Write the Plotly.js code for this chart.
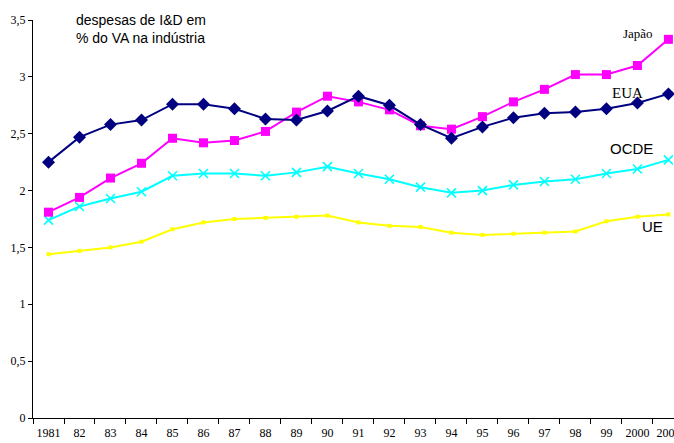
<!DOCTYPE html>
<html><head><meta charset="utf-8">
<script src="https://cdn.plot.ly/plotly-3.0.1.min.js"></script>
<style>html,body{margin:0;padding:0;background:#fff}#chart{width:674px;height:443px}</style>
</head><body><div id="chart"></div>
<script>
const years = ["1981","82","83","84","85","86","87","88","89","90","91","92","93","94","95","96","97","98","99","2000","2001"];
const eua   = [2.25,2.47,2.58,2.62,2.76,2.76,2.72,2.63,2.62,2.70,2.83,2.75,2.58,2.46,2.56,2.64,2.68,2.69,2.72,2.77,2.85];
const japao = [1.81,1.94,2.11,2.24,2.46,2.42,2.44,2.52,2.69,2.83,2.78,2.71,2.57,2.54,2.65,2.78,2.89,3.02,3.02,3.10,3.33];
const ocde  = [1.74,1.86,1.93,1.99,2.13,2.15,2.15,2.13,2.16,2.21,2.15,2.10,2.03,1.98,2.00,2.05,2.08,2.10,2.15,2.19,2.27];
const ue    = [1.44,1.47,1.50,1.55,1.66,1.72,1.75,1.76,1.77,1.78,1.72,1.69,1.68,1.63,1.61,1.62,1.63,1.64,1.73,1.77,1.79];
const yTickVals = [0,0.5,1,1.5,2,2.5,3,3.5];
const yTickText = ["0","0,5","1","1,5","2","2,5","3","3,5"];

const traces = [
  {x: years, y: ue, name: "UE", mode: "lines+markers", line: {color: "#FFFF00", width: 2}, marker: {symbol: "square", size: 4, color: "#FFFF00"}},
  {x: years, y: ocde, name: "OCDE", mode: "lines+markers", line: {color: "#00FFFF", width: 2}, marker: {symbol: "x-thin-open", size: 9, color: "#00FFFF", line: {color: "#00FFFF", width: 1.6}}},
  {x: years, y: japao, name: "Japão", mode: "lines+markers", line: {color: "#FF00FF", width: 2}, marker: {symbol: "square", size: 9, color: "#FF00FF"}},
  {x: years, y: eua, name: "EUA", mode: "lines+markers", line: {color: "#000080", width: 2}, marker: {symbol: "diamond", size: 10, color: "#000080"}}
];

const serif = "Liberation Serif, Times New Roman, serif";
const sans = "Liberation Sans, Arial, sans-serif";

const layout = {
  width: 674, height: 443,
  margin: {l: 33, r: 0, t: 20, b: 25},
  paper_bgcolor: "#fff", plot_bgcolor: "#fff",
  showlegend: false,
  xaxis: {
    type: "category", range: [-0.5, 20.18], automargin: false,
    showline: true, linecolor: "#000", linewidth: 1,
    showgrid: false, zeroline: false,
    ticks: "outside", tickson: "boundaries", ticklen: 5, tickcolor: "#000",
    tickangle: 0, ticklabelstandoff: 4,
    tickfont: {family: serif, size: 12, color: "#000"}
  },
  yaxis: {
    range: [0, 3.5], tickvals: yTickVals, ticktext: yTickText, automargin: false,
    showline: true, linecolor: "#000", linewidth: 1,
    showgrid: false, zeroline: false,
    ticks: "outside", ticklen: 4, tickcolor: "#000",
    tickfont: {family: serif, size: 12, color: "#000"}
  },
  annotations: [
    {xref: "paper", yref: "paper", x: 0.064, y: 1.025, xanchor: "left", yanchor: "top", align: "left", showarrow: false,
     text: "despesas de I&D em<br>% do VA na indústria", font: {family: sans, size: 14, color: "#000"}},
    {xref: "paper", yref: "paper", x: 0.944, y: 0.967, xanchor: "center", yanchor: "middle", showarrow: false, text: "Japão", font: {family: serif, size: 13, color: "#000"}},
    {xref: "paper", yref: "paper", x: 0.928, y: 0.817, xanchor: "center", yanchor: "middle", showarrow: false, text: "EUA", font: {family: serif, size: 15, color: "#000"}},
    {xref: "paper", yref: "paper", x: 0.934, y: 0.678, xanchor: "center", yanchor: "middle", showarrow: false, text: "OCDE", font: {family: sans, size: 15, color: "#000"}},
    {xref: "paper", yref: "paper", x: 0.967, y: 0.482, xanchor: "center", yanchor: "middle", showarrow: false, text: "UE", font: {family: sans, size: 15, color: "#000"}}
  ]
};

Plotly.newPlot("chart", traces, layout, {displayModeBar: false, staticPlot: true});
</script>
</body></html>
